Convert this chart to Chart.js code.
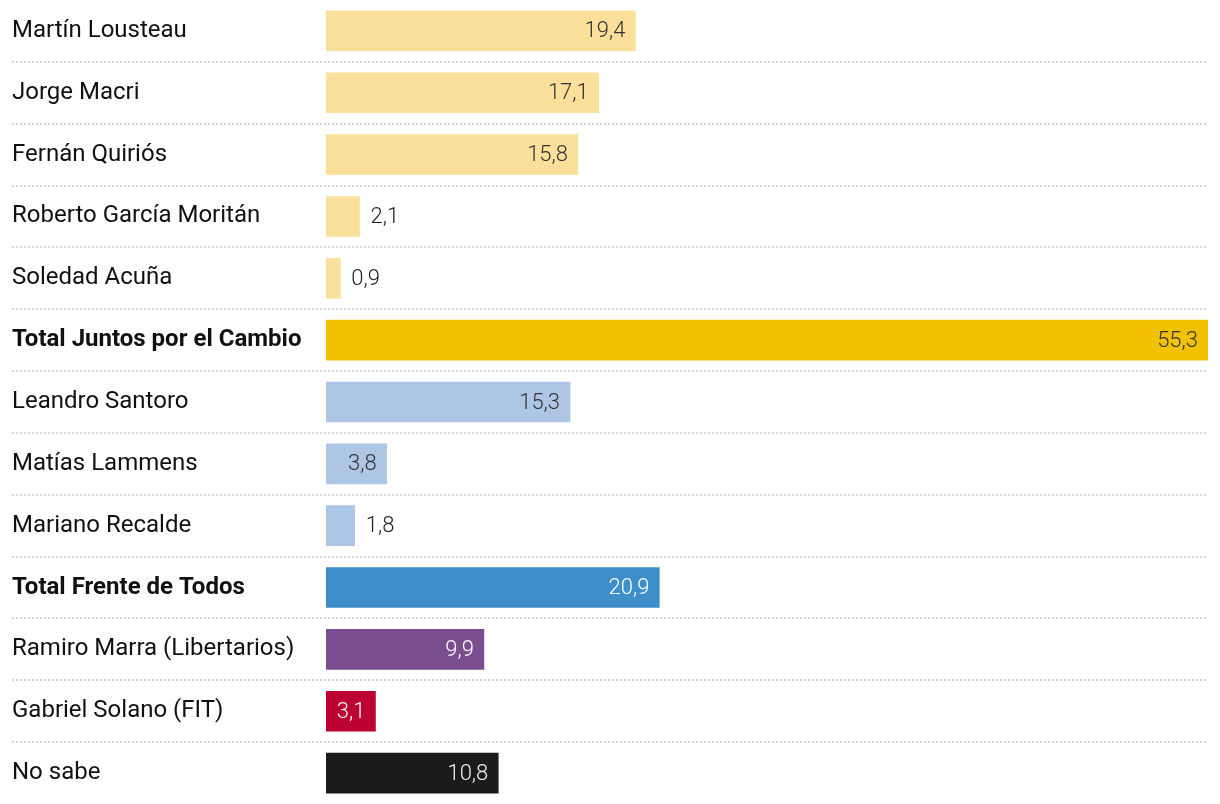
<!DOCTYPE html>
<html>
<head>
<meta charset="utf-8">
<script src="https://cdn.jsdelivr.net/npm/chart.js@4/dist/chart.umd.min.js"></script>
<style>
  html, body { margin: 0; padding: 0; background: #fff; }
  #wrap { width: 1220px; height: 804px; }
</style>
</head>
<body>
<div id="wrap"><canvas id="c" width="1220" height="804"></canvas></div>
<script>
var candidates = [
  'Martín Lousteau',
  'Jorge Macri',
  'Fernán Quiriós',
  'Roberto García Moritán',
  'Soledad Acuña',
  'Total Juntos por el Cambio',
  'Leandro Santoro',
  'Matías Lammens',
  'Mariano Recalde',
  'Total Frente de Todos',
  'Ramiro Marra (Libertarios)',
  'Gabriel Solano (FIT)',
  'No sabe'
];
var votes = [19.4, 17.1, 15.8, 2.1, 0.9, 55.3, 15.3, 3.8, 1.8, 20.9, 9.9, 3.1, 10.8];
var barColors = [
  '#fae09b', '#fae09b', '#fae09b', '#fae09b', '#fae09b',
  '#f2c200',
  '#adc6e6', '#adc6e6', '#adc6e6',
  '#3e8ec9',
  '#7a4e8e',
  '#bd0033',
  '#1b1b1b'
];
var valueColors = [
  '#333', '#333', '#333', '#333', '#333',
  '#333',
  '#333', '#333', '#333',
  '#fff', '#fff', '#fff', '#eee'
];
var boldRows = [5, 9];

// dotted lines between rows, from the label column to the right edge
var separators = {
  id: 'separators',
  beforeDatasetsDraw: function(chart) {
    var ctx = chart.ctx, y = chart.scales.y, area = chart.chartArea;
    ctx.save();
    ctx.strokeStyle = '#d6d6d6';
    ctx.lineWidth = 2;
    ctx.setLineDash([2, 2]);
    for (var i = 0; i < candidates.length - 1; i++) {
      var py = Math.round((y.getPixelForValue(i) + y.getPixelForValue(i + 1)) / 2);
      ctx.beginPath();
      ctx.moveTo(12, py);
      ctx.lineTo(area.right, py);
      ctx.stroke();
    }
    ctx.restore();
  }
};

// value labels: inside the bar on the right, or just after it when the bar is short
var valueLabels = {
  id: 'valueLabels',
  afterDatasetsDraw: function(chart) {
    var ctx = chart.ctx;
    var meta = chart.getDatasetMeta(0);
    ctx.save();
    ctx.font = '300 22px Roboto';
    ctx.textBaseline = 'middle';
    meta.data.forEach(function(bar, i) {
      var txt = votes[i].toFixed(1).replace('.', ',');
      if (votes[i] < 2.5) {
        ctx.fillStyle = '#222';
        ctx.textAlign = 'left';
        ctx.fillText(txt, bar.x + 11, bar.y + 1);
      } else {
        ctx.fillStyle = valueColors[i];
        ctx.textAlign = 'right';
        ctx.fillText(txt, bar.x - 10, bar.y + 1);
      }
    });
    ctx.restore();
  }
};

new Chart(document.getElementById('c'), {
  type: 'bar',
  data: {
    labels: candidates,
    datasets: [{
      data: votes,
      backgroundColor: barColors,
      barThickness: 40
    }]
  },
  options: {
    indexAxis: 'y',
    responsive: false,
    animation: false,
    layout: { padding: { left: 12, right: 12, top: 0, bottom: 0 } },
    plugins: { legend: { display: false }, tooltip: { enabled: false } },
    scales: {
      x: { display: false, min: 0, max: 55.3 },
      y: {
        afterFit: function(scale) {
          scale.width = 314;
          scale.paddingTop = 0;
          scale.paddingBottom = 0;
        },
        grid: { display: false },
        border: { display: false },
        ticks: {
          crossAlign: 'far',
          color: '#111',
          font: function(c) {
            return boldRows.indexOf(c.index) >= 0
              ? { family: 'Roboto', size: 24, weight: 'bold' }
              : { family: 'Roboto', size: 24, weight: 'normal' };
          }
        }
      }
    }
  },
  plugins: [separators, valueLabels]
});
</script>
</body>
</html>
